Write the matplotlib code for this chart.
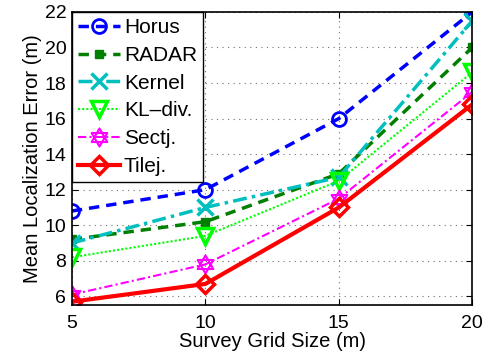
import numpy as np
import matplotlib
matplotlib.use('Agg')
from matplotlib import pyplot as plt
from matplotlib.path import Path

plt.rcParams['font.family'] = ['Liberation Sans', 'DejaVu Sans']

# survey grid sizes (m)
grid_size = [5, 10, 15, 20]

# mean localization error (m) per method
horus = [10.8, 12.0, 16.0, 22.0]
radar = [9.2, 10.2, 12.9, 20.0]
kernel = [9.0, 11.0, 12.7, 21.5]
kldiv = [8.2, 9.4, 12.5, 18.6]
sectj = [6.1, 7.8, 11.5, 17.5]
tilej = [5.7, 6.7, 11.0, 16.8]

labels = ['Horus', 'RADAR', 'Kernel', 'KL\u2013div.', 'Sectj.', 'Tilej.']
yticks = [6, 8, 10, 12, 14, 16, 18, 20, 22]
xticks = [5, 10, 15, 20]

# hexagram marker (two overlapping triangles)
ang1 = np.deg2rad([90, 210, 330, 90])
ang2 = np.deg2rad([270, 30, 150, 270])
verts = list(zip(np.cos(ang1), np.sin(ang1))) + list(zip(np.cos(ang2), np.sin(ang2)))
codes = [Path.MOVETO, Path.LINETO, Path.LINETO, Path.CLOSEPOLY] * 2
hexagram = Path(verts, codes)

fig = plt.figure(figsize=(4.92, 3.6), dpi=100)
ax = fig.add_axes([0.146, 0.152, 0.814, 0.815])

lw = 2.5
ax.plot(grid_size, horus, color='#0000ff', ls=(0, (3, 2)), lw=lw, marker='o',
        mfc='none', mew=2, ms=10, label=labels[0])
ax.plot(grid_size, radar, color='#007f00', ls=(0, (3, 2)), lw=lw, marker='s',
        mfc='#007f00', mew=1, ms=6, label=labels[1])
ax.plot(grid_size, kernel, color='#00bfbf', ls=(0, (4, 1.5, 1, 1.5)), lw=lw, marker='x',
        mew=2.5, ms=12, label=labels[2])
ax.plot(grid_size, kldiv, color='#00ff00', ls=(0, (1, 1)), lw=1.5, marker='v',
        mfc='none', mew=2.5, ms=12, label=labels[3])
ax.plot(grid_size, sectj, color='#ff00ff', ls=(0, (4, 1.5, 1, 1.5)), lw=1.5, marker=hexagram,
        mfc='none', mew=1.5, ms=13, label=labels[4])
ax.plot(grid_size, tilej, color='#ff0000', ls='-', lw=3, marker='D',
        mfc='none', mew=2.5, ms=9, label=labels[5])

ax.set_xlim(5, 20)
ax.set_ylim(5.5, 22)
ax.set_xticks(xticks)
ax.set_yticks(yticks)
ax.tick_params(direction='in', top=True, right=True, labelsize=14, length=4, pad=4)
ax.tick_params(axis='x', pad=7)
ax.grid(True, ls=(0, (1, 4)), color='#707070', lw=0.8)
for s in ax.spines.values():
    s.set_linewidth(1.2)

ax.set_xlabel('Survey Grid Size (m)', fontsize=14.5, labelpad=0)
ax.set_ylabel('Mean Localization Error (m)', fontsize=14.5, labelpad=2)

leg = ax.legend(loc='upper left', fontsize=15, handlelength=2.0, handletextpad=0.2,
                labelspacing=0.42, borderaxespad=0.0, borderpad=0.3, fancybox=False,
                framealpha=1, edgecolor='black')
leg.get_frame().set_linewidth(1.0)

fig.savefig('out.png', dpi=100)
